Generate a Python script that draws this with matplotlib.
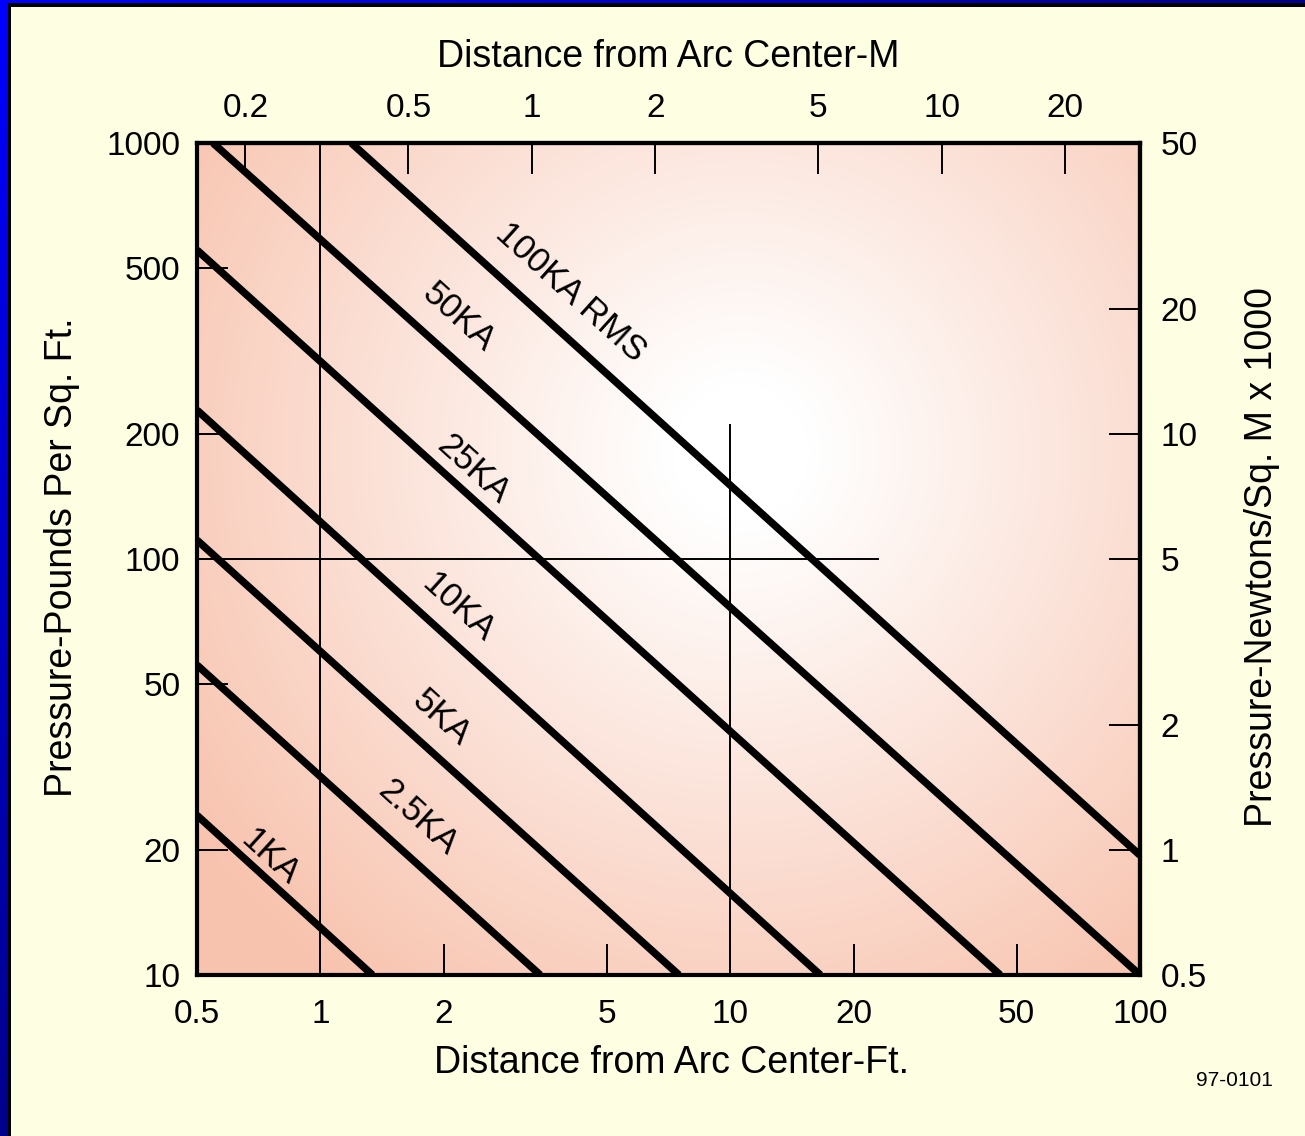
import numpy as np
import matplotlib
matplotlib.use("Agg")
import matplotlib.pyplot as plt

plt.rcParams["font.family"] = ["Liberation Sans", "DejaVu Sans"]

# arc blast pressure lines, endpoints (ft, lb/sq ft)
currents = ["100KA RMS", "50KA", "25KA", "10KA", "5KA", "2.5KA", "1KA"]
start_ft = [1.19, 0.547, 0.5, 0.5, 0.5, 0.5, 0.5]
start_psf = [1000, 1000, 553, 228, 111, 55.6, 24.2]
end_ft = [100, 100, 45.6, 16.6, 7.5, 3.44, 1.34]
end_psf = [19.4, 10, 10, 10, 10, 10, 10]
label_ft = [4.09, 2.17, 2.36, 2.17, 1.97, 1.73, 0.753]
label_psf = [438, 380, 164, 76.3, 41.5, 23.9, 19.2]

# thin guide lines
vguide_ft = [1, 10]
vguide_top = [1000, 210]
hguide_psf = 100
hguide_end = 23

ft_ticks = [0.5, 1, 2, 5, 10, 20, 50, 100]
psf_ticks = [10, 20, 50, 100, 200, 500, 1000]
m_ticks = [0.2, 0.5, 1, 2, 5, 10, 20]
kn_ticks = [0.5, 1, 2, 5, 10, 20, 50]
FT_TO_M = 0.3048
PSF_TO_KN = 0.05

W, H = 1305, 1136
fig = plt.figure(figsize=(W / 100, H / 100), dpi=100)

# frame: blue border on top/left, cream page
bg = fig.add_axes([0, 0, 1, 1], zorder=-2)
bg.set_xlim(0, W)
bg.set_ylim(H, 0)
bg.axis("off")
yy, xx = np.mgrid[0:H:4, 0:W:4]
t = np.clip(np.hypot(xx / W, yy / H) / 1.1, 0, 1)
blue = np.dstack([np.zeros_like(t), np.zeros_like(t), 1.0 - 0.5 * t])
bg.imshow(blue, extent=[0, W, H, 0], aspect="auto", interpolation="bilinear")
bg.add_patch(plt.Rectangle((8, 3), W, H, color="black", lw=0))
bg.add_patch(plt.Rectangle((11, 7), W, H, color="#FEFEE3", lw=0))

# plot area with radial shading
pos = [197 / W, 1 - 975 / H, (1140 - 197) / W, (975 - 143) / H]
gax = fig.add_axes(pos, zorder=-1)
gax.axis("off")
gy, gx = np.mgrid[143:975:4, 197:1140:4]
d = np.hypot(gx - 740, gy - 450)
g = np.clip((d - 70) / 600, 0, 1)
salmon = np.array([248, 195, 174]) / 255
img = 1 - g[..., None] * (1 - salmon)
gax.imshow(img, extent=[0, 1, 0, 1], aspect="auto", interpolation="bilinear")

ax = fig.add_axes(pos, zorder=1)
ax.set_facecolor("none")
ax.set_xscale("log")
ax.set_yscale("log")
ax.set_xlim(0.5, 100)
ax.set_ylim(10, 1000)

for i in range(len(currents)):
    ax.plot([start_ft[i], end_ft[i]], [start_psf[i], end_psf[i]],
            color="black", lw=5.4, solid_capstyle="butt")

for xv, top in zip(vguide_ft, vguide_top):
    ax.plot([xv, xv], [10, top], color="black", lw=1.4)
ax.plot([0.5, hguide_end], [hguide_psf, hguide_psf], color="black", lw=1.4)

for i, name in enumerate(currents):
    p0 = ax.transData.transform((start_ft[i], start_psf[i]))
    p1 = ax.transData.transform((end_ft[i], end_psf[i]))
    ang = np.degrees(np.arctan2(p1[1] - p0[1], p1[0] - p0[0]))
    ax.text(label_ft[i], label_psf[i], name, rotation=ang, rotation_mode="anchor",
            ha="center", va="center", fontsize=25)

tick_kw = dict(direction="in", length=22, width=1.4, labelsize=24)
ax.xaxis.set_minor_locator(matplotlib.ticker.NullLocator())
ax.yaxis.set_minor_locator(matplotlib.ticker.NullLocator())
ax.set_xticks(ft_ticks, [f"{v:g}" for v in ft_ticks])
ax.set_yticks(psf_ticks, [f"{v:g}" for v in psf_ticks])
ax.tick_params(axis="x", pad=17, **tick_kw)
ax.tick_params(axis="y", pad=12, **tick_kw)
for s in ax.spines.values():
    s.set_linewidth(3)

top = ax.secondary_xaxis("top", functions=(lambda x: x * FT_TO_M, lambda x: x / FT_TO_M))
top.xaxis.set_minor_locator(matplotlib.ticker.NullLocator())
top.set_xticks(m_ticks, [f"{v:g}" for v in m_ticks])
top.tick_params(pad=14, **tick_kw)
top.spines["top"].set_linewidth(3)

right = ax.secondary_yaxis("right", functions=(lambda y: y * PSF_TO_KN, lambda y: y / PSF_TO_KN))
right.yaxis.set_minor_locator(matplotlib.ticker.NullLocator())
right.set_yticks(kn_ticks, [f"{v:g}" for v in kn_ticks])
right.tick_params(pad=15, **tick_kw)
right.spines["right"].set_linewidth(3)

fig.text(668 / W, 1 - 57 / H, "Distance from Arc Center-M", fontsize=27,
         ha="center", va="center")
fig.text(672 / W, 1 - 1063 / H, "Distance from Arc Center-Ft.", fontsize=27,
         ha="center", va="center")
fig.text(62 / W, 1 - 557 / H, "Pressure-Pounds Per Sq. Ft.", fontsize=27,
         rotation=90, ha="center", va="center")
fig.text(1262 / W, 1 - 557 / H, "Pressure-Newtons/Sq. M x 1000", fontsize=27,
         rotation=90, ha="center", va="center")
fig.text(1234 / W, 1 - 1080 / H, "97-0101", fontsize=15, ha="center", va="center")

fig.savefig("out.png", dpi=100)
